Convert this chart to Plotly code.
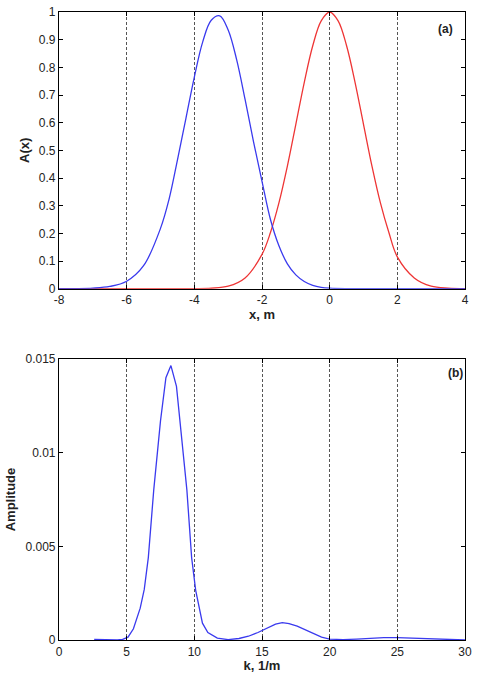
import plotly.graph_objects as go

# ---- Panel (a) data: A(x) ----
x_red = [-8, -6, -5, -4, -3.5, -3, -2.5, -2, -1.75, -1.5, -1.25, -1, -0.75, -0.5, -0.25, 0,
         0.25, 0.5, 0.75, 1, 1.25, 1.5, 1.75, 2, 2.5, 3, 3.5, 4]
a_red = [0, 0, 0, 0.0002, 0.0017, 0.009, 0.039, 0.124, 0.203, 0.31, 0.443, 0.594, 0.746, 0.878, 0.968, 1.0,
         0.968, 0.878, 0.746, 0.594, 0.443, 0.31, 0.203, 0.115, 0.039, 0.009, 0.0017, 0.0002]

x_blue = [-8, -7.5, -7, -6.5, -6, -5.5, -5, -4.75, -4.5, -4.25, -4, -3.75, -3.5, -3.25, -3, -2.75,
          -2.5, -2.25, -2, -1.75, -1.5, -1.25, -1, -0.75, -0.5, -0.25, 0, 0.5, 1, 2, 3, 4]
a_blue = [0, 0.0003, 0.002, 0.008, 0.027, 0.083, 0.218, 0.322, 0.465, 0.615, 0.765, 0.893, 0.97, 0.986, 0.935, 0.828,
          0.684, 0.531, 0.388, 0.25, 0.155, 0.09, 0.05, 0.026, 0.012, 0.005, 0.002, 0.0003, 0, 0, 0, 0]

# ---- Panel (b) data: spectrum ----
k_vals = [2.6, 3.5, 4.3, 4.7, 5.1, 5.5, 6.0, 6.3, 6.6, 7.0, 7.5, 7.9, 8.27, 8.68, 9.05, 9.45, 9.8, 10.1,
          10.6, 11.0, 11.7, 12.5, 13.3, 14.0, 14.7, 15.4, 16.0, 16.5, 17.0, 17.6, 18.2, 18.8, 19.4, 20.0,
          21, 22, 23, 24, 25, 26, 27, 28, 29, 30]
amp = [0.00003, 0.00001, 0.0, 0.00003, 0.00015, 0.0006, 0.0017, 0.0027, 0.0044, 0.008, 0.0117, 0.0140,
       0.01465, 0.01354, 0.0110, 0.008, 0.0044, 0.00265, 0.0009, 0.0004, 0.0001, 0.00002, 0.00008,
       0.0002, 0.0004, 0.00062, 0.00085, 0.00093, 0.00088, 0.00074, 0.00053, 0.00032, 0.00015, 0.00005,
       0.00002, 0.00005, 0.0001, 0.00013, 0.00013, 0.0001, 0.00005, 0.00002, 0.00001, 0.0]

# ---- Tick labels ----
xa_ticks = [-8, -6, -4, -2, 0, 2, 4]
xa_text = ["-8", "-6", "-4", "-2", "0", "2", "4"]
ya_ticks = [0, 0.1, 0.2, 0.3, 0.4, 0.5, 0.6, 0.7, 0.8, 0.9, 1]
ya_text = ["0", "0.1", "0.2", "0.3", "0.4", "0.5", "0.6", "0.7", "0.8", "0.9", "1"]
xb_ticks = [0, 5, 10, 15, 20, 25, 30]
xb_text = ["0", "5", "10", "15", "20", "25", "30"]
yb_ticks = [0, 0.005, 0.01, 0.015]
yb_text = ["0", "0.005", "0.01", "0.015"]

BLUE = "#3a3aee"
RED = "#ee3535"
FONT = "Liberation Sans, Arial, sans-serif"

fig = go.Figure()
fig.add_trace(go.Scatter(x=x_red, y=a_red, mode="lines", line=dict(color=RED, width=1.3, shape="spline"),
                         xaxis="x", yaxis="y", showlegend=False))
fig.add_trace(go.Scatter(x=x_blue, y=a_blue, mode="lines", line=dict(color=BLUE, width=1.3, shape="spline"),
                         xaxis="x", yaxis="y", showlegend=False))
fig.add_trace(go.Scatter(x=k_vals, y=amp, mode="lines", line=dict(color=BLUE, width=1.3),
                         xaxis="x2", yaxis="y2", showlegend=False))

common = dict(showline=True, linecolor="black", linewidth=1.2, mirror="ticks", ticks="inside",
              ticklen=4, tickcolor="black", tickfont=dict(family=FONT, size=12, color="#222"),
              zeroline=False)

fig.update_layout(
    width=477, height=675,
    margin=dict(l=59, r=5, t=12, b=32),
    paper_bgcolor="white", plot_bgcolor="white",
    font=dict(family=FONT, color="#222"),
    xaxis=dict(domain=[0, 1], anchor="y", range=[-8, 4], tickvals=xa_ticks, ticktext=xa_text,
               showgrid=True, gridcolor="#555", gridwidth=1, griddash="3px,2px",
               title=dict(text="<b>x, m</b>", font=dict(size=13, family=FONT), standoff=2), **common),
    yaxis=dict(domain=[0.5594, 1], anchor="x", range=[0, 1], tickvals=ya_ticks, ticktext=ya_text,
               showgrid=False,
               title=dict(text="<b>A(x)</b>", font=dict(size=13, family=FONT), standoff=6), **common),
    xaxis2=dict(domain=[0, 1], anchor="y2", range=[0, 30], tickvals=xb_ticks, ticktext=xb_text,
                showgrid=True, gridcolor="#555", gridwidth=1, griddash="3px,2px",
                title=dict(text="<b>k, 1/m</b>", font=dict(size=13, family=FONT), standoff=2), **common),
    yaxis2=dict(domain=[0, 0.4474], anchor="x2", range=[0, 0.015], tickvals=yb_ticks, ticktext=yb_text,
                showgrid=False,
                title=dict(text="<b>Amplitude</b>", font=dict(size=13, family=FONT), standoff=6), **common),
    annotations=[
        dict(text="<b>(a)</b>", xref="x domain", yref="y domain", x=0.975, y=0.94, showarrow=False,
             font=dict(size=12, family=FONT, color="#222"), xanchor="right", yanchor="middle"),
        dict(text="<b>(b)</b>", xref="x2 domain", yref="y2 domain", x=1.0, y=0.95, showarrow=False,
             font=dict(size=12, family=FONT, color="#222"), xanchor="right", yanchor="middle"),
    ],
)

fig.write_html("out.html")
